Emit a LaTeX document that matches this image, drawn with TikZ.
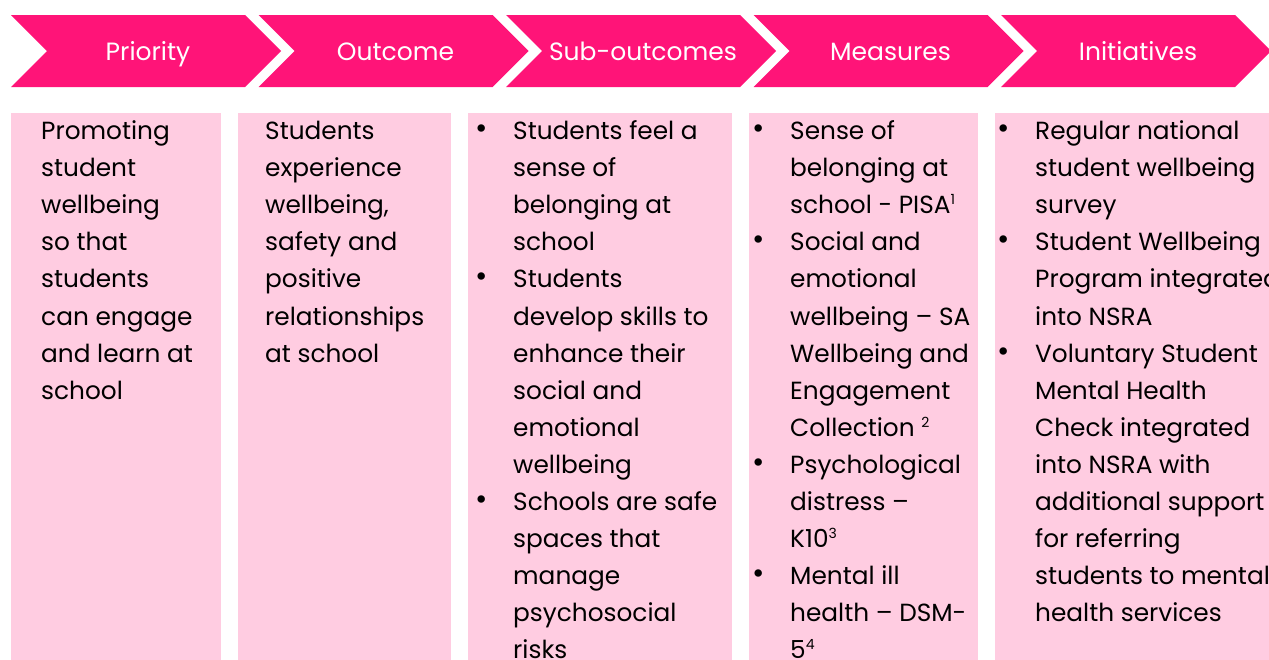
\documentclass[tikz,border=0pt]{standalone}
\usepackage{fontspec}
\setmainfont{Poppins}
\definecolor{chevpink}{HTML}{FF1478}
\definecolor{panelpink}{HTML}{FFCCE1}
% bullet hung in the left margin of a line
\newcommand\itembul{\leavevmode\llap{\raisebox{1pt}{\fontsize{30}{30}\selectfont •}\hspace{25pt}}}
\newcommand\fnmark[1]{\raisebox{9pt}{\fontsize{14}{14}\selectfont #1}}
\begin{document}
\begin{tikzpicture}[x=1pt,y=-1pt,
  chevron/.style={fill=chevpink,draw=none},
  panel/.style={fill=panelpink,draw=none},
  head/.style={text=white,font=\fontsize{25}{30}\selectfont,inner sep=0pt,anchor=base},
  body/.style={inner sep=0pt,anchor=base west,font=\fontsize{24.8}{37.1}\selectfont}]
\useasboundingbox (0,0) rectangle (1269,659);
\clip (0,0) rectangle (1269,659);

% header chevrons
\foreach \i/\lab in {0/Priority,1/Outcome,2/Sub-outcomes,3/Measures,4/Initiatives}{
  \pgfmathsetmacro\L{11+247.5*\i}
  \fill[chevron] (\L,15) -- (\L+234,15) -- (\L+270,51) -- (\L+234,87)
     -- (\L,87) -- (\L+36,51) -- cycle;
  \node[head] (h\i) at (\L+137,60) {\lab};
}

% column panels
\fill[panel] (11,113) rectangle (221,670);
\fill[panel] (238,113) rectangle (451,670);
\fill[panel] (468,113) rectangle (732,670);
\fill[panel] (749,113) rectangle (978,670);
\fill[panel] (995,113) rectangle (1290,670);

% column texts
\node[body] (priority) at (41,139.5) {\begin{minipage}[t]{170pt}\raggedright
Promoting\\student\\wellbeing\\so that\\students\\can engage\\and learn at\\school
\end{minipage}};

\node[body] (outcome) at (265,139.5) {\begin{minipage}[t]{180pt}\raggedright
Students\\experience\\wellbeing,\\safety and\\positive\\relationships\\at school
\end{minipage}};

\node[body] (suboutcomes) at (513,139.5) {\begin{minipage}[t]{220pt}\raggedright
\itembul Students feel a\\sense of\\belonging at\\school\\
\itembul Students\\develop skills to\\enhance their\\social and\\emotional\\wellbeing\\
\itembul Schools are safe\\spaces that\\manage\\psychosocial\\risks
\end{minipage}};

\node[body] (measures) at (790,139.5) {\begin{minipage}[t]{200pt}\raggedright
\itembul Sense of\\belonging at\\school - PISA\fnmark{1}\\
\itembul Social and\\emotional\\wellbeing – SA\\Wellbeing and\\Engagement\\Collection \fnmark{2}\\
\itembul Psychological\\distress –\\K10\fnmark{3}\\
\itembul Mental ill\\health – DSM-\\5\fnmark{4}
\end{minipage}};

\node[body] (initiatives) at (1035,139.5) {\begin{minipage}[t]{300pt}\raggedright
\itembul Regular national\\student wellbeing\\survey\\
\itembul Student Wellbeing\\Program integrated\\into NSRA\\
\itembul Voluntary Student\\Mental Health\\Check integrated\\into NSRA with\\additional support\\for referring\\students to mental\\health services
\end{minipage}};
\end{tikzpicture}
\end{document}
